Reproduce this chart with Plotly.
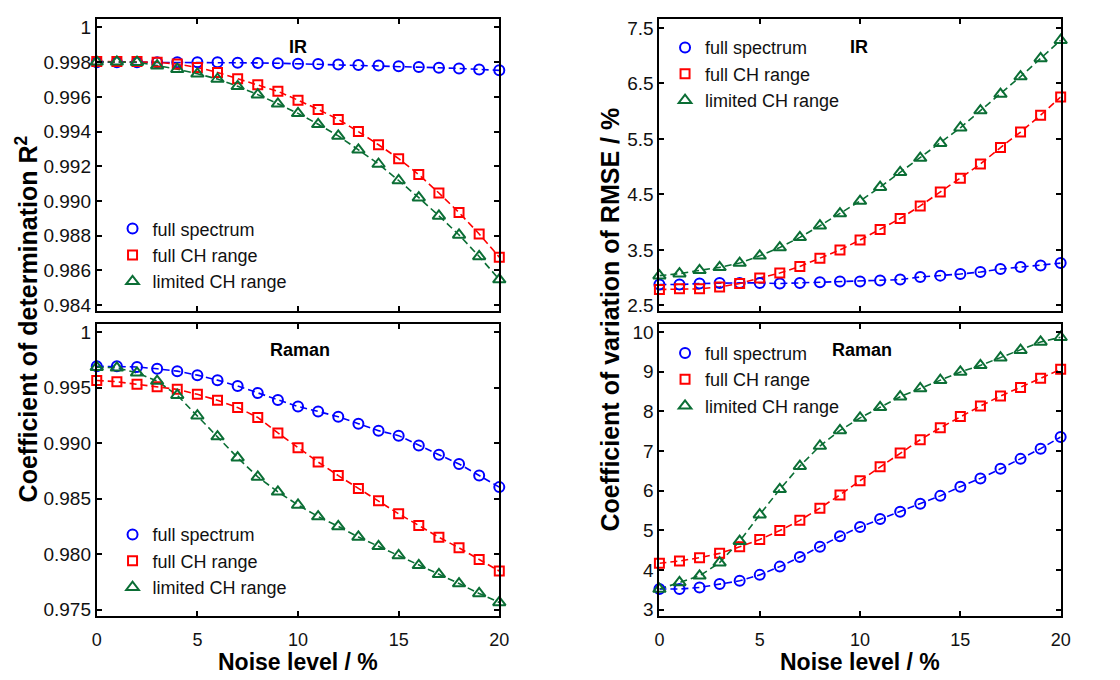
import plotly.graph_objects as go

# ---------------- data ----------------
noise = list(range(21))

ir_r2_full_spectrum = [0.99800, 0.99800, 0.99800, 0.99800, 0.99800, 0.99800, 0.99799, 0.99797,
                       0.99796, 0.99794, 0.99791, 0.99789, 0.99786, 0.99784, 0.99781, 0.99776,
                       0.99772, 0.99768, 0.99764, 0.99758, 0.99753]
ir_r2_full_ch = [0.99804, 0.99804, 0.99804, 0.99800, 0.99789, 0.99770, 0.99741, 0.99705,
                 0.99670, 0.99632, 0.99581, 0.99528, 0.99470, 0.99400, 0.99324, 0.99244,
                 0.99152, 0.99046, 0.98933, 0.98810, 0.98676]
ir_r2_limited_ch = [0.99802, 0.99802, 0.99800, 0.99780, 0.99760, 0.99733, 0.99703, 0.99661,
                    0.99613, 0.99560, 0.99505, 0.99442, 0.99375, 0.99295, 0.99213, 0.99118,
                    0.99019, 0.98914, 0.98804, 0.98680, 0.98547]

raman_r2_full_spectrum = [0.99693, 0.99693, 0.99687, 0.99670, 0.99649, 0.99613, 0.99568, 0.99515,
                          0.99452, 0.99390, 0.99330, 0.99286, 0.99238, 0.99176, 0.99113, 0.99068,
                          0.98979, 0.98896, 0.98813, 0.98708, 0.98604]
raman_r2_full_ch = [0.99565, 0.99554, 0.99530, 0.99509, 0.99485, 0.99440, 0.99387, 0.99321,
                    0.99232, 0.99092, 0.98958, 0.98830, 0.98708, 0.98592, 0.98482, 0.98363,
                    0.98259, 0.98152, 0.98057, 0.97952, 0.97848]
raman_r2_limited_ch = [0.99685, 0.99679, 0.99634, 0.99560, 0.99432, 0.99247, 0.99060, 0.98869,
                       0.98696, 0.98562, 0.98443, 0.98339, 0.98250, 0.98155, 0.98071, 0.97988,
                       0.97899, 0.97818, 0.97735, 0.97646, 0.97565]

ir_cv_full_spectrum = [2.875, 2.875, 2.893, 2.905, 2.905, 2.905, 2.893, 2.905, 2.917, 2.929,
                       2.929, 2.946, 2.964, 3.012, 3.036, 3.065, 3.101, 3.155, 3.190, 3.220, 3.262]
ir_cv_full_ch = [2.786, 2.798, 2.798, 2.833, 2.893, 2.994, 3.083, 3.202, 3.351, 3.500,
                 3.679, 3.869, 4.065, 4.292, 4.542, 4.792, 5.048, 5.345, 5.625, 5.929, 6.256]
ir_cv_limited_ch = [3.036, 3.071, 3.131, 3.185, 3.262, 3.393, 3.542, 3.726, 3.935, 4.155,
                    4.381, 4.631, 4.899, 5.155, 5.423, 5.702, 6.012, 6.310, 6.625, 6.952, 7.280]

raman_cv_full_spectrum = [3.517, 3.517, 3.558, 3.642, 3.725, 3.875, 4.083, 4.325, 4.583, 4.850,
                          5.083, 5.283, 5.467, 5.667, 5.867, 6.100, 6.308, 6.550, 6.800, 7.058, 7.350]
raman_cv_full_ch = [4.167, 4.225, 4.308, 4.417, 4.583, 4.767, 4.992, 5.250, 5.558, 5.892,
                    6.250, 6.600, 6.950, 7.283, 7.583, 7.867, 8.133, 8.383, 8.600, 8.833, 9.058]
raman_cv_limited_ch = [3.517, 3.683, 3.850, 4.183, 4.725, 5.392, 6.033, 6.617, 7.125, 7.517,
                       7.833, 8.100, 8.367, 8.575, 8.783, 8.992, 9.158, 9.350, 9.542, 9.750, 9.867]

series_names = ["full spectrum", "full CH range", "limited CH range"]
panel_titles = ["IR", "Raman", "IR", "Raman"]

x_ticks = [0, 5, 10, 15, 20]
r2_ir_ticks = [0.984, 0.986, 0.988, 0.990, 0.992, 0.994, 0.996, 0.998, 1.0]
r2_ir_labels = ["0.984", "0.986", "0.988", "0.990", "0.992", "0.994", "0.996", "0.998", "1"]
r2_raman_ticks = [0.975, 0.980, 0.985, 0.990, 0.995, 1.0]
r2_raman_labels = ["0.975", "0.980", "0.985", "0.990", "0.995", "1"]
cv_ir_ticks = [2.5, 3.5, 4.5, 5.5, 6.5, 7.5]
cv_raman_ticks = [3, 4, 5, 6, 7, 8, 9, 10]

# ---------------- styling ----------------
W, H = 1120, 680
FONT = "Arial, Liberation Sans, sans-serif"
COLORS = ["#0000ff", "#ff0000", "#0b6e35"]
SYMBOLS = ["circle-open", "square-open", "triangle-up-open"]
SIZES = [10, 9, 11]


def px(x):
    return x / W


def py(y):
    return 1 - y / H


panels = [
    dict(data=[ir_r2_full_spectrum, ir_r2_full_ch, ir_r2_limited_ch],
         xd=(93, 501), yd=(17, 312.5), yr=(0.98364, 1.0005),
         tv=r2_ir_ticks, tt=r2_ir_labels, leg=(130, 256), tpos=(297, 45), xlabels=False),
    dict(data=[raman_r2_full_spectrum, raman_r2_full_ch, raman_r2_limited_ch],
         xd=(93, 501), yd=(325, 620.7), yr=(0.9744, 1.00077),
         tv=r2_raman_ticks, tt=r2_raman_labels, leg=(130, 565), tpos=(299, 352), xlabels=True),
    dict(data=[ir_cv_full_spectrum, ir_cv_full_ch, ir_cv_limited_ch],
         xd=(663.3, 1070), yd=(17, 312.5), yr=(2.393, 7.666),
         tv=cv_ir_ticks, tt=[str(v) for v in cv_ir_ticks], leg=(690, 73), tpos=(866, 45), xlabels=False),
    dict(data=[raman_cv_full_spectrum, raman_cv_full_ch, raman_cv_limited_ch],
         xd=(663.3, 1070), yd=(325, 620.7), yr=(2.83, 10.21),
         tv=cv_raman_ticks, tt=[str(v) for v in cv_raman_ticks], leg=(690, 381.7), tpos=(869, 352), xlabels=True),
]

fig = go.Figure()
layout = dict(
    width=W, height=H, margin=dict(l=0, r=0, t=0, b=0),
    paper_bgcolor="white", plot_bgcolor="white",
    font=dict(family=FONT, color="black"),
    showlegend=True, annotations=[],
)

for i, p in enumerate(panels):
    k = "" if i == 0 else str(i + 1)
    xa, ya = "x" + k, "y" + k
    leg = "legend" + k
    for s, ys in enumerate(p["data"]):
        fig.add_trace(go.Scatter(
            x=noise, y=ys, mode="lines", xaxis=xa, yaxis=ya,
            line=dict(color=COLORS[s], width=1.6, dash="7px,4px"),
            showlegend=False, hoverinfo="skip", cliponaxis=False))
    for s, ys in enumerate(p["data"]):
        fig.add_trace(go.Scatter(
            x=noise, y=ys, mode="markers", xaxis=xa, yaxis=ya, name=series_names[s],
            marker=dict(symbol=SYMBOLS[s], size=SIZES[s], color=COLORS[s],
                        line=dict(color=COLORS[s], width=2)),
            legend=leg, showlegend=True, cliponaxis=False))

    axis_common = dict(showline=True, linecolor="black", linewidth=2, mirror="allticks",
                       ticks="inside", ticklen=5, tickwidth=2, tickcolor="black",
                       showgrid=False, zeroline=False)
    layout["xaxis" + k] = dict(
        domain=[px(p["xd"][0]), px(p["xd"][1])], anchor=ya, range=[0, 20],
        tickvals=x_ticks, ticktext=[str(v) for v in x_ticks], showticklabels=p["xlabels"],
        ticklabelstandoff=6,
        tickfont=dict(size=18, color="#111", family=FONT), **axis_common)
    layout["yaxis" + k] = dict(
        domain=[py(p["yd"][1]), py(p["yd"][0])], anchor=xa, range=list(p["yr"]),
        tickvals=p["tv"], ticktext=p["tt"],
        tickfont=dict(size=19, color="#111", family=FONT), **axis_common)
    layout[leg] = dict(
        x=px(p["leg"][0] - 21), y=py(p["leg"][1]), xanchor="left", yanchor="middle",
        bgcolor="rgba(0,0,0,0)", font=dict(size=18, family=FONT, color="#111"),
        tracegroupgap=0)
    layout["annotations"].append(dict(
        text="<b>%s</b>" % panel_titles[i], x=px(p["tpos"][0]), y=py(p["tpos"][1]),
        xref="paper", yref="paper", showarrow=False, xanchor="center", yanchor="middle",
        font=dict(size=18, family=FONT, color="black")))

# axis titles
for xc in (297, 867):
    layout["annotations"].append(dict(
        text="<b>Noise level / %</b>", x=px(xc), y=py(667), xref="paper", yref="paper",
        showarrow=False, xanchor="center", yanchor="middle",
        font=dict(size=23, family=FONT, color="black")))
layout["annotations"].append(dict(
    text="<b>Coefficient of determination R<sup>2</sup></b>", x=px(22), y=py(320),
    xref="paper", yref="paper", showarrow=False, textangle=-90,
    xanchor="center", yanchor="middle", font=dict(size=25, family=FONT, color="black")))
layout["annotations"].append(dict(
    text="<b>Coefficient of variation of RMSE / %</b>", x=px(613), y=py(321),
    xref="paper", yref="paper", showarrow=False, textangle=-90,
    xanchor="center", yanchor="middle", font=dict(size=25, family=FONT, color="black")))

fig.update_layout(**layout)
fig.write_html("out.html")
